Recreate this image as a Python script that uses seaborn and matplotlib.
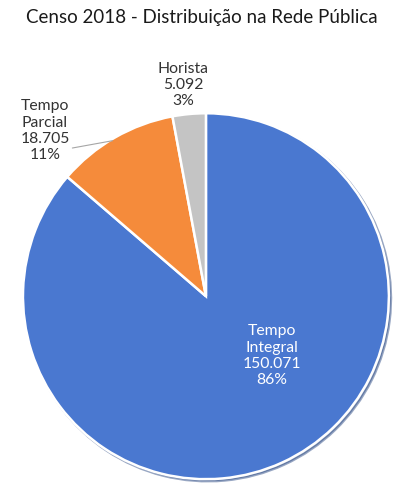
import matplotlib
matplotlib.use('Agg')
import matplotlib.pyplot as plt
import seaborn as sns

# data
categories = ['Tempo Integral', 'Tempo Parcial', 'Horista']
category_labels = ['Tempo\nIntegral', 'Tempo\nParcial', 'Horista']
values = [150071, 18705, 5092]
colors = ['#4A78D0', '#F58B3B', '#C4C4C4']

sns.set_theme(style='white')
plt.rcParams['font.family'] = ['Lato', 'DejaVu Sans']

total = sum(values)

fig = plt.figure(figsize=(4.03, 4.88), dpi=100)
fig.patch.set_facecolor('white')
ax = fig.add_axes([0.057, 0.018, 0.908, 0.75])

wedges, _ = ax.pie(values, colors=colors, startangle=90, counterclock=False,
                   wedgeprops=dict(edgecolor='white', linewidth=1.8),
                   shadow={'ox': 0.008, 'oy': -0.008, 'shade': 0.35})
ax.set_xlim(-1, 1)
ax.set_ylim(-1, 1)
ax.set_aspect('equal')
ax.axis('off')

# label text + placement (data coords of the pie axes)
label_pos = [(0.36, -0.325), (-0.88, 0.905), (-0.126, 1.153)]
label_color = ['white', '#333333', '#333333']
for name, v, (x, y), c in zip(category_labels, values, label_pos, label_color):
    txt = f"{name}\n{v:,}".replace(',', '.') + f"\n{round(v / total * 100)}%"
    ax.text(x, y, txt, ha='center', va='center', fontsize=11.3, color=c,
            linespacing=1.2, clip_on=False)

# leader line for Tempo Parcial
ax.plot([-0.73, -0.51], [0.81, 0.85], color='#A6A6A6', lw=0.8, clip_on=False)

fig.suptitle('Censo 2018 - Distribuição na Rede Pública', y=0.982,
             fontsize=13.5, color='#1a1a1a')

fig.savefig('out.png', dpi=100, facecolor='white')
plt.close(fig)
